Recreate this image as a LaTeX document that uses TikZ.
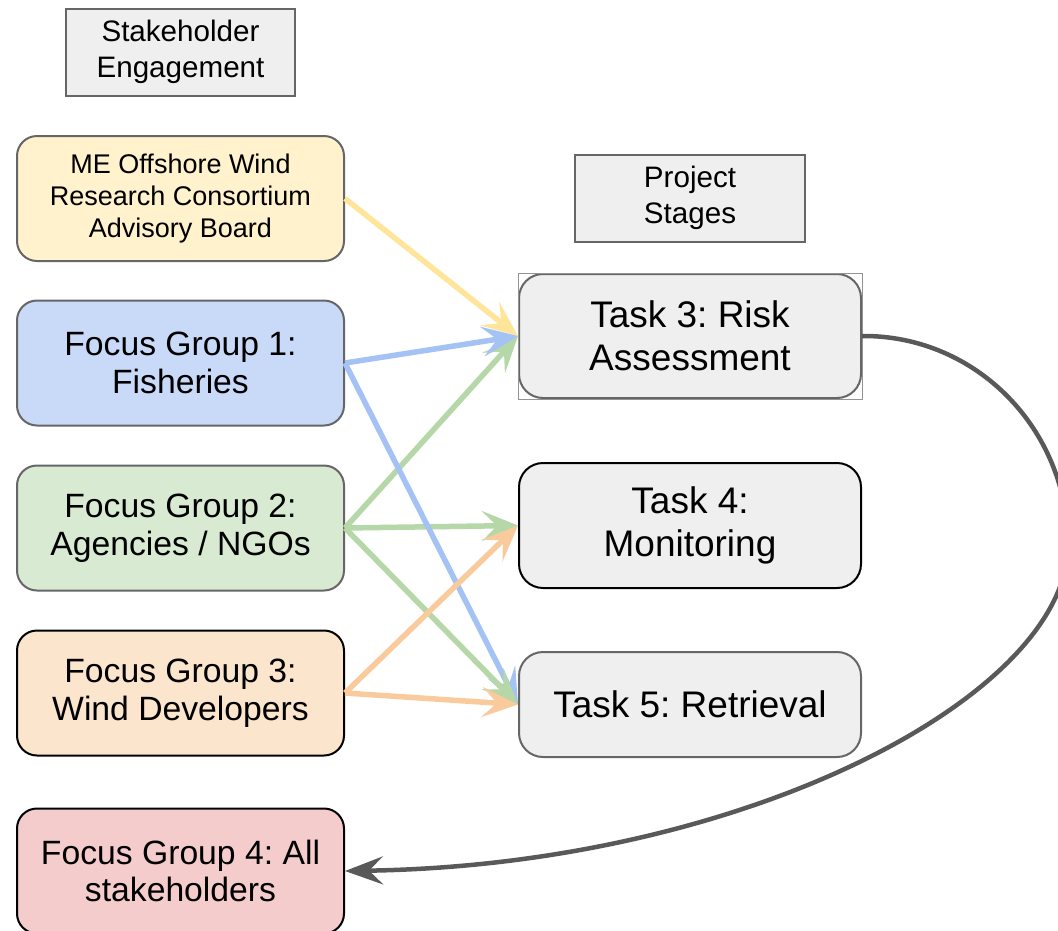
\documentclass[tikz,border=0pt]{standalone}
\usepackage{fontspec}
\setmainfont{Liberation Sans}
\usepackage{xcolor}
\usepackage{tikz}
\usetikzlibrary{arrows.meta,positioning}
\frenchspacing

\definecolor{boxgray}{HTML}{EFEFEF}
\definecolor{edgegray}{HTML}{666666}
\definecolor{curvegray}{HTML}{595959}
\definecolor{mefill}{HTML}{FFF2CC}
\definecolor{meline}{HTML}{FFE599}
\definecolor{fisherfill}{HTML}{C9DAF8}
\definecolor{fisherline}{HTML}{A4C2F4}
\definecolor{agencyfill}{HTML}{D9EAD3}
\definecolor{agencyline}{HTML}{B6D7A8}
\definecolor{windfill}{HTML}{FCE5CD}
\definecolor{windline}{HTML}{F9CB9C}
\definecolor{allfill}{HTML}{F4CCCC}

\begin{document}
\begin{tikzpicture}[x=1pt,y=-1pt,
  headbox/.style={draw=edgegray,fill=boxgray,line width=2pt,minimum width=229pt,minimum height=87pt,inner sep=0pt,align=center,font=\fontsize{29.6}{36}\selectfont},
  groupbox/.style={draw=#1,line width=2pt,rounded corners=20pt,minimum width=327pt,minimum height=125pt,inner sep=0pt,align=center,font=\fontsize{33.7}{37.5}\selectfont},
  taskbox/.style={draw=#1,fill=boxgray,line width=2pt,rounded corners=24pt,minimum width=342pt,inner sep=0pt,align=center,font=\fontsize{37}{43}\selectfont},
  link/.style={-{Stealth[length=36pt,width=30pt,inset=15pt]},line width=5.5pt,color=#1}]
  \useasboundingbox (0,0) rectangle (1058,930);

  \node[headbox] (seng) at (180.5,52) {Stakeholder\\Engagement};
  \node[headbox,minimum width=230pt] (stages) at (690,198) {Project\\Stages};

  \node[groupbox=edgegray,fill=mefill,font=\fontsize{27}{32}\selectfont] (me) at (180.5,198.5) {ME Offshore Wind\\Research Consortium\\Advisory Board};
  \node[groupbox=edgegray,fill=fisherfill] (fg1) at (180.5,363) {Focus Group 1:\\Fisheries};
  \node[groupbox=edgegray,fill=agencyfill] (fg2) at (180.5,528) {Focus Group 2:\\Agencies / NGOs};
  \node[groupbox=black,fill=windfill] (fg3) at (180.5,693) {Focus Group 3:\\Wind Developers};
  \node[groupbox=black,fill=allfill] (fg4) at (180.5,871) {Focus Group 4: All\\stakeholders};

  \node[taskbox=edgegray,minimum height=124pt] (t3) at (690,336) {Task 3: Risk\\Assessment};
  \node[taskbox=black,minimum height=125pt] (t4) at (690,525.5) {Task 4:\\Monitoring};
  \node[taskbox=edgegray,minimum height=105pt] (t5) at (690,704.5) {Task 5: Retrieval};
  \draw[edgegray!70,line width=1pt] (t3.north west) rectangle (t3.south east);

  \draw[link=meline] (me.east) -- (t3.west);
  \draw[link=agencyline] (fg2.east) -- (t3.west);
  \draw[link=agencyline] (fg2.east) -- (t4.west);
  \draw[link=fisherline] (fg1.east) -- (t3.west);
  \draw[link=fisherline] (fg1.east) -- (t5.west);
  \draw[link=agencyline] (fg2.east) -- (t5.west);
  \draw[link=windline] (fg3.east) -- (t4.west);
  \draw[link=windline] (fg3.east) -- (t5.west);

  \draw[-{Stealth[length=38pt,width=28pt,inset=14pt]},line width=4.5pt,curvegray]
    (t3.east) .. controls (976,335) and (1068,429) .. (1068,545)
    .. controls (1068,695) and (746,865) .. (fg4.east);
\end{tikzpicture}
\end{document}
